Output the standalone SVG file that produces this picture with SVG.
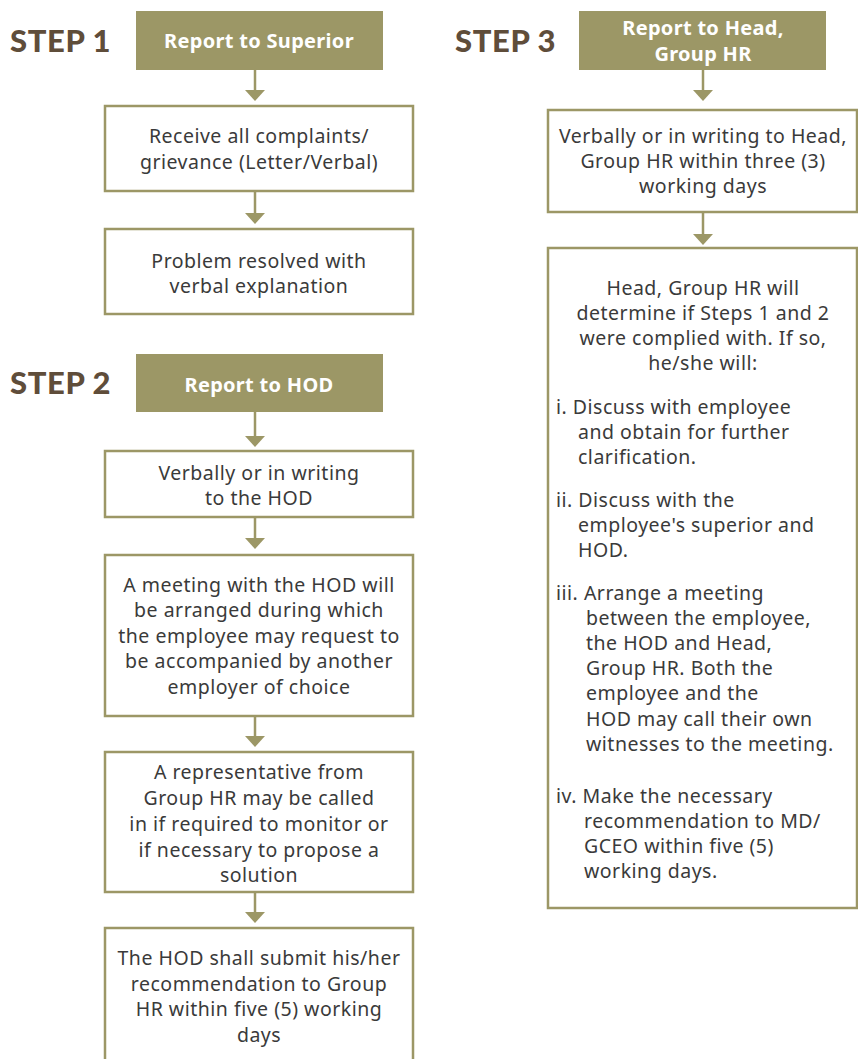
<svg xmlns="http://www.w3.org/2000/svg" width="858" height="1059" viewBox="0 0 858 1059">
<style>
.step{font-family:"Lato","Liberation Sans",sans-serif;font-weight:900;font-size:31px;letter-spacing:0.6px;fill:#5f4d3a}
.hdr{fill:#9c9766}
.ht{font-family:"Noto Sans","Liberation Sans",sans-serif;font-weight:700;font-size:20px;letter-spacing:0.3px;fill:#ffffff;text-anchor:middle}
.box{fill:#ffffff;stroke:#9c9766;stroke-width:2.5}
.t{font-family:"Noto Sans","Liberation Sans",sans-serif;font-size:19.5px;letter-spacing:0.5px;fill:#3a3a3a}
.c{text-anchor:middle}
.ln{stroke:#9c9766;stroke-width:2.5;fill:none}
.ah{fill:#9c9766}
</style>
<rect width="858" height="1059" fill="#ffffff"/>
<g id="step1">
<text class="step" x="10" y="52">STEP 1</text>
<g id="h1"><rect class="hdr" x="136" y="11" width="247" height="59"/><text class="ht" x="259" y="48">Report to Superior</text></g>
<g id="n1"><rect class="box" x="105" y="106" width="308" height="85"/><text class="t c" x="259" y="143">Receive all complaints/</text><text class="t c" x="259" y="169">grievance (Letter/Verbal)</text></g>
<g id="n2"><rect class="box" x="105" y="229" width="308" height="85"/><text class="t c" x="259" y="268">Problem resolved with</text><text class="t c" x="259" y="293">verbal explanation</text></g>
</g>
<g id="step2">
<text class="step" x="10" y="394">STEP 2</text>
<g id="h2"><rect class="hdr" x="136" y="354" width="247" height="58"/><text class="ht" x="259" y="392">Report to HOD</text></g>
<g id="n3"><rect class="box" x="105" y="451" width="308" height="66"/><text class="t c" x="259" y="480">Verbally or in writing</text><text class="t c" x="259" y="505">to the HOD</text></g>
<g id="n4"><rect class="box" x="105" y="555" width="308" height="161"/><text class="t c" x="259" y="592">A meeting with the HOD will</text><text class="t c" x="259" y="617">be arranged during which</text><text class="t c" x="259" y="643">the employee may request to</text><text class="t c" x="259" y="668">be accompanied by another</text><text class="t c" x="259" y="694">employer of choice</text></g>
<g id="n5"><rect class="box" x="105" y="752" width="308" height="140"/><text class="t c" x="259" y="779">A representative from</text><text class="t c" x="259" y="805">Group HR may be called</text><text class="t c" x="259" y="831">in if required to monitor or</text><text class="t c" x="259" y="857">if necessary to propose a</text><text class="t c" x="259" y="882">solution</text></g>
<g id="n6"><rect class="box" x="105" y="928" width="308" height="150"/><text class="t c" x="259" y="965">The HOD shall submit his/her</text><text class="t c" x="259" y="991">recommendation to Group</text><text class="t c" x="259" y="1016">HR within five (5) working</text><text class="t c" x="259" y="1042">days</text></g>
</g>
<g id="step3">
<text class="step" x="455" y="52">STEP 3</text>
<g id="h3"><rect class="hdr" x="579" y="11" width="247" height="59"/><text class="ht" x="703" y="35">Report to Head,</text><text class="ht" x="703" y="61">Group HR</text></g>
<g id="n7"><rect class="box" x="548" y="110" width="309" height="102"/><text class="t c" x="703" y="143">Verbally or in writing to Head,</text><text class="t c" x="703" y="168">Group HR within three (3)</text><text class="t c" x="703" y="193">working days</text></g>
<g id="n8"><rect class="box" x="548" y="248" width="309" height="660"/>
<text class="t c" x="703" y="295">Head, Group HR will</text>
<text class="t c" x="703" y="320">determine if Steps 1 and 2</text>
<text class="t c" x="703" y="345">were complied with. If so,</text>
<text class="t c" x="703" y="370">he/she will:</text>
<text class="t" x="556" y="414">i. Discuss with employee</text>
<text class="t" x="578" y="439">and obtain for further</text>
<text class="t" x="578" y="464">clarification.</text>
<text class="t" x="556" y="507">ii. Discuss with the</text>
<text class="t" x="578" y="532">employee's superior and</text>
<text class="t" x="578" y="557">HOD.</text>
<text class="t" x="556" y="600">iii. Arrange a meeting</text>
<text class="t" x="586" y="625">between the employee,</text>
<text class="t" x="586" y="650">the HOD and Head,</text>
<text class="t" x="586" y="675">Group HR. Both the</text>
<text class="t" x="586" y="700">employee and the</text>
<text class="t" x="586" y="726">HOD may call their own</text>
<text class="t" x="586" y="751">witnesses to the meeting.</text>
<text class="t" x="556" y="803">iv. Make the necessary</text>
<text class="t" x="584" y="828">recommendation to MD/</text>
<text class="t" x="584" y="853">GCEO within five (5)</text>
<text class="t" x="584" y="878">working days.</text>
</g>
</g>
<g id="connectors">
<line class="ln" x1="255" y1="70" x2="255" y2="92"/><polygon class="ah" points="245,90 265,90 255,101"/>
<line class="ln" x1="255" y1="191" x2="255" y2="215"/><polygon class="ah" points="245,213 265,213 255,224"/>
<line class="ln" x1="255" y1="412" x2="255" y2="438"/><polygon class="ah" points="245,436 265,436 255,447"/>
<line class="ln" x1="255" y1="517" x2="255" y2="540"/><polygon class="ah" points="245,538 265,538 255,549"/>
<line class="ln" x1="255" y1="716" x2="255" y2="738"/><polygon class="ah" points="245,736 265,736 255,747"/>
<line class="ln" x1="255" y1="892" x2="255" y2="914"/><polygon class="ah" points="245,912 265,912 255,923"/>
<line class="ln" x1="703" y1="70" x2="703" y2="92"/><polygon class="ah" points="693,90 713,90 703,101"/>
<line class="ln" x1="703" y1="212" x2="703" y2="236"/><polygon class="ah" points="693,234 713,234 703,245"/>
</g>
</svg>
